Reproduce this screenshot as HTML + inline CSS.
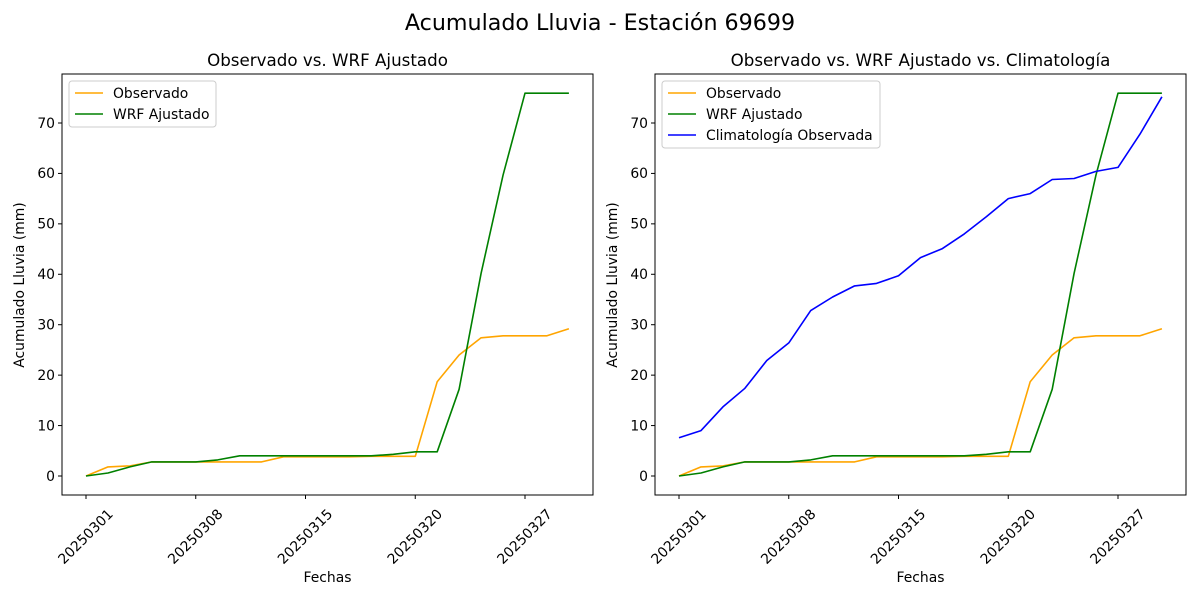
<!DOCTYPE html>
<html><head><meta charset="utf-8"><style>body{margin:0;background:#fff}svg{display:block;font-family:"DejaVu Sans","Liberation Sans",sans-serif}</style></head>
<body><svg id="s" width="1200" height="600" xmlns="http://www.w3.org/2000/svg"></svg>
<script>
const obs=[0,1.8,2.0,2.8,2.8,2.8,2.8,2.8,2.8,3.8,3.8,3.8,3.8,3.9,3.9,3.9,18.7,24,27.4,27.8,27.8,27.8,29.2];
const wrf=[0,0.6,1.8,2.8,2.8,2.8,3.2,4.0,4.0,4.0,4.0,4.0,4.0,4.0,4.3,4.8,4.8,17.2,40.2,59.7,75.9,75.9,75.9];
const cli=[7.6,9,13.7,17.4,22.9,26.4,32.8,35.5,37.7,38.2,39.7,43.3,45.1,48,51.4,55,56,58.8,59,60.4,61.2,67.8,75.2];
let h='';
const Y=v=>476-v*5.043;
h+='<text x="600" y="30" font-size="22.2" text-anchor="middle">Acumulado Lluvia - Estación 69699</text>';
function panel(ox,title,series,leg){
 const X=i=>ox+24+i*21.95;
 h+=`<text x="${ox+265.5}" y="66" font-size="16.7" text-anchor="middle">${title}</text>`;
 for(const [d,c] of series){h+=`<polyline fill="none" stroke="${c}" stroke-width="1.6" stroke-linejoin="round" points="${d.map((v,i)=>X(i).toFixed(1)+','+Y(v).toFixed(1)).join(' ')}"/>`;}
 h+=`<rect x="${ox}" y="74" width="531" height="421" fill="none" stroke="#000" stroke-width="1"/>`;
 for(let v=0;v<=70;v+=10){const y=Y(v);h+=`<line x1="${ox}" x2="${ox-4}" y1="${y}" y2="${y}" stroke="#000"/><text x="${ox-7}" y="${y+4.8}" font-size="13.9" text-anchor="end">${v}</text>`;}
 const lab=['20250301','20250308','20250315','20250320','20250327'];
 lab.forEach((l,k)=>{const x=X(k*5);h+=`<line x1="${x}" x2="${x}" y1="495" y2="499" stroke="#000"/><text transform="translate(${x},537) rotate(-45)" font-size="13.9" text-anchor="middle" dominant-baseline="central">${l}</text>`;});
 h+=`<text x="${ox+265.5}" y="582" font-size="13.9" text-anchor="middle">Fechas</text>`;
 h+=`<text transform="translate(${ox-38},285) rotate(-90)" font-size="13.9" text-anchor="middle">Acumulado Lluvia (mm)</text>`;
 const lw=leg.w,lh=4+series.length*21;
 h+=`<rect x="${ox+7}" y="81" width="${lw}" height="${lh}" rx="3" fill="#fff" fill-opacity="0.8" stroke="#ccc"/>`;
 series.forEach(([d,c,n],k)=>{const y=93+k*21;h+=`<line x1="${ox+13}" x2="${ox+41}" y1="${y}" y2="${y}" stroke="${c}" stroke-width="1.6"/><text x="${ox+51}" y="${y+4.8}" font-size="13.9">${n}</text>`;});
}
panel(62,'Observado vs. WRF Ajustado',[[obs,'orange','Observado'],[wrf,'green','WRF Ajustado']],{w:147});
panel(655,'Observado vs. WRF Ajustado vs. Climatología',[[obs,'orange','Observado'],[wrf,'green','WRF Ajustado'],[cli,'blue','Climatología Observada']],{w:218});
document.getElementById('s').innerHTML=h;
</script></body></html>
